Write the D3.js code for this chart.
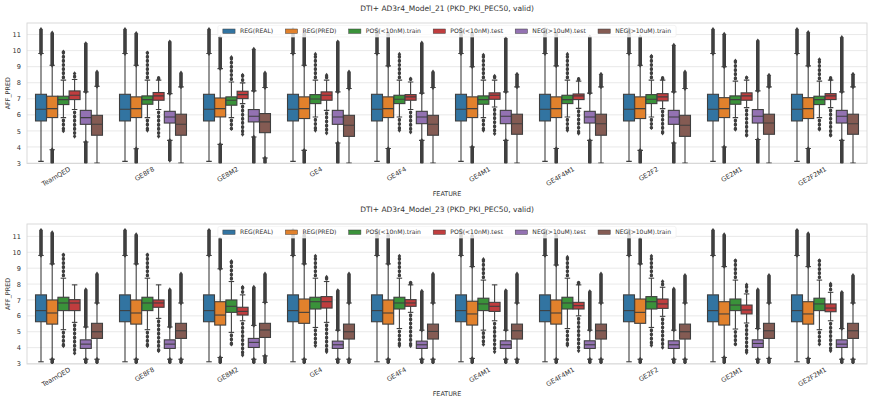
<!DOCTYPE html>
<html><head><meta charset="utf-8">
<script src="https://cdn.jsdelivr.net/npm/d3@7"></script>
<style>
body{margin:0;background:#fff;}
svg{display:block;font-family:"DejaVu Sans",sans-serif;}
</style></head><body>
<svg id="c" width="873" height="401"></svg>
<script>
// ---------------- DATA ----------------
const features = ["TeamQED","GE8F8","GE8M2","GE4","GE4F4","GE4M1","GE4F4M1","GE2F2","GE2M1","GE2F2M1"];
const seriesNames = ["REG(REAL)","REG(PRED)","POS(<10nM).train","POS(<10nM).test","NEG(>10uM).test","NEG(>10uM).train"];
const titles = ["DTI+ AD3r4_Model_21 (PKD_PKI_PEC50, valid)","DTI+ AD3r4_Model_23 (PKD_PKI_PEC50, valid)"];
const yTicks = [3,4,5,6,7,8,9,10,11];
// each entry: [flierMin, whiskerLow, q1, median, q3, whiskerHigh, flierMax]
const m21_regReal = features.map(() => [3.10,3.10,5.62,6.35,7.28,9.82,11.32]);
const m21_regPred = [
 [3.00,3.83,5.83,6.39,7.16,9.09,11.10],[3.00,3.89,5.83,6.39,7.12,9.09,11.07],[3.00,4.16,5.87,6.39,7.05,8.88,10.82],
 [3.00,3.79,5.77,6.39,7.12,9.09,11.07],[3.00,3.90,5.83,6.39,7.12,9.05,11.07],[3.00,4.00,5.83,6.39,7.12,9.00,11.07],
 [3.00,3.90,5.83,6.39,7.12,9.05,11.07],[3.00,3.79,5.77,6.39,7.12,9.09,10.86],[3.00,4.00,5.83,6.39,7.07,9.00,11.02],
 [3.00,3.90,5.77,6.39,7.07,9.05,11.13]];
const m21_posTrain = [
 [5.00,5.83,6.64,6.95,7.16,8.16,9.92],[5.04,5.83,6.66,6.95,7.18,8.16,9.86],[5.14,5.83,6.60,6.91,7.12,8.05,9.57],
 [5.04,5.87,6.70,6.99,7.26,8.16,9.78],[5.04,5.87,6.70,6.97,7.22,8.16,9.78],[5.04,5.83,6.66,6.95,7.18,8.16,9.72],
 [5.04,5.87,6.70,6.95,7.22,8.16,9.78],[5.20,5.87,6.70,6.97,7.26,8.16,9.65],[5.10,5.83,6.66,6.95,7.18,8.10,9.36],
 [5.10,5.83,6.64,6.95,7.16,8.10,9.44]];
const m21_posTest = [
 [4.66,6.33,6.95,7.22,7.49,8.20,8.57],[4.66,6.33,6.91,7.18,7.39,8.16,8.24],[4.79,6.70,7.01,7.26,7.47,7.99,8.47],
 [4.87,6.28,6.91,7.22,7.43,8.16,8.47],[4.93,6.33,6.91,7.12,7.26,8.05,8.24],[4.83,6.49,6.97,7.22,7.37,8.16,8.41],
 [4.85,6.40,6.95,7.18,7.30,8.10,8.20],[4.87,6.39,6.87,7.12,7.32,8.16,8.24],[4.73,6.45,6.91,7.18,7.37,8.16,8.32],
 [4.73,6.45,6.95,7.18,7.32,8.16,8.20]];
const m21_negTest = [
 [3.00,4.31,5.41,5.83,6.28,7.43,10.44],[3.17,4.41,5.49,5.87,6.22,7.32,10.55],[3.00,4.62,5.56,5.91,6.33,7.49,10.09],
 [3.00,4.25,5.41,5.87,6.28,7.43,10.55],[3.00,4.41,5.45,5.87,6.22,7.35,10.48],[3.00,4.41,5.45,5.91,6.28,7.43,10.75],
 [3.00,4.41,5.49,5.87,6.22,7.35,10.86],[3.00,4.25,5.41,5.87,6.28,7.43,10.34],[3.00,4.46,5.49,5.91,6.33,7.49,10.61],
 [3.00,4.41,5.49,5.91,6.28,7.43,10.82]];
const m21_negTrain = [
 [3.00,3.00,4.73,5.41,5.97,7.78,8.67],[3.00,3.00,4.73,5.41,6.04,7.74,8.61],[3.00,3.31,4.89,5.56,6.08,7.70,8.61],
 [3.00,3.00,4.66,5.35,5.97,7.64,8.67],[3.00,3.00,4.73,5.41,5.97,7.70,8.67],[3.00,3.00,4.79,5.45,6.04,7.74,8.53],
 [3.00,3.00,4.73,5.45,6.04,7.74,8.53],[3.00,3.00,4.66,5.35,5.97,7.64,8.67],[3.00,3.00,4.79,5.49,6.04,7.74,8.47],
 [3.00,3.00,4.79,5.45,6.04,7.74,8.53]];

const m23_regReal = features.map(() => [3.11,3.11,5.63,6.33,7.32,9.80,11.38]);
const m23_regPred = [
 [3.06,3.27,5.48,6.18,7.00,9.27,11.23],[3.06,3.27,5.48,6.18,7.00,9.27,11.11],[3.06,3.38,5.42,6.05,6.89,8.96,10.85],
 [3.06,3.27,5.53,6.22,7.06,9.27,11.11],[3.06,3.27,5.48,6.18,7.00,9.27,11.11],[3.06,3.32,5.42,6.12,6.92,9.10,11.06],
 [3.06,3.27,5.48,6.18,7.00,9.20,11.10],[3.06,3.27,5.53,6.22,7.06,9.27,10.85],[3.06,3.38,5.42,6.12,6.89,9.10,11.11],
 [3.06,3.32,5.48,6.12,6.89,9.10,11.17]];
const m23_posTrain = [
 [4.12,5.13,6.33,6.81,7.17,8.37,9.84],[4.12,5.13,6.33,6.81,7.17,8.37,9.84],[4.22,4.96,6.22,6.60,7.00,8.16,9.42],
 [4.12,5.27,6.43,6.89,7.17,8.37,9.76],[4.12,5.20,6.43,6.81,7.17,8.37,9.76],[4.20,5.10,6.33,6.75,7.11,8.25,9.55],
 [4.15,5.20,6.43,6.81,7.17,8.37,9.69],[4.15,5.27,6.43,6.89,7.21,8.37,9.76],[4.22,5.17,6.33,6.68,7.06,8.25,9.48],
 [4.22,5.13,6.33,6.75,7.11,8.25,9.48]];
const m23_posTest = [
 [3.65,5.59,6.33,6.81,7.02,7.95,7.95],[3.80,5.84,6.54,6.81,7.00,7.95,7.95],[3.53,5.69,6.05,6.28,6.54,7.32,7.80],
 [3.74,5.59,6.49,6.89,7.21,8.16,8.43],[4.12,6.22,6.60,6.81,7.02,7.95,8.01],[3.74,5.69,6.28,6.60,6.85,7.95,7.95],
 [3.80,6.00,6.43,6.64,6.85,7.95,8.01],[4.01,5.97,6.47,6.75,7.06,7.80,8.16],[3.69,5.55,6.12,6.37,6.68,7.38,7.95],
 [3.80,5.69,6.26,6.49,6.75,7.48,8.01]];
const m23_negTest = [
 [3.06,3.27,3.95,4.22,4.49,5.30,7.65],[3.06,3.27,3.95,4.22,4.49,5.30,7.65],[3.06,3.27,4.01,4.33,4.58,5.40,7.80],
 [3.06,3.27,3.95,4.18,4.41,5.10,7.59],[3.06,3.27,3.95,4.18,4.41,5.10,7.55],[3.06,3.27,3.95,4.18,4.43,5.10,7.59],
 [3.06,3.27,3.95,4.18,4.43,5.10,7.53],[3.06,3.27,3.95,4.18,4.43,5.10,7.69],[3.06,3.27,4.01,4.26,4.49,5.20,7.65],
 [3.06,3.27,4.01,4.22,4.49,5.20,7.48]];
const m23_negTrain = [
 [3.06,3.27,4.58,5.00,5.53,6.81,8.64],[3.06,3.27,4.58,5.06,5.53,6.81,8.64],[3.06,3.48,4.64,5.11,5.53,6.85,8.64],
 [3.06,3.27,4.54,5.00,5.48,6.81,8.64],[3.06,3.27,4.54,5.02,5.48,6.81,8.64],[3.06,3.27,4.54,5.06,5.48,6.81,8.64],
 [3.06,3.27,4.54,5.06,5.48,6.81,8.64],[3.06,3.27,4.54,5.00,5.48,6.81,8.54],[3.06,3.32,4.58,5.06,5.53,6.81,8.54],
 [3.06,3.27,4.58,5.06,5.53,6.81,8.54]];

// ---------------- STYLE / LAYOUT ----------------
const colors = ["#3274a1","#e1812c","#3a923a","#c03d3e","#9372b2","#845b53"];
const sparse = [false,false,true,true,false,false];
const lineCol = "#3f3f3f";
const panels = [
  {title:titles[0], data:[m21_regReal,m21_regPred,m21_posTrain,m21_posTest,m21_negTest,m21_negTrain], top:23, bottom:163.5, dom:[2.97,11.72]},
  {title:titles[1], data:[m23_regReal,m23_regPred,m23_posTrain,m23_posTest,m23_negTest,m23_negTrain], top:224, bottom:364, dom:[2.97,11.78]}
];
const L = 27, R = 867;
const svg = d3.select("#c");
const x = d3.scaleBand().domain(features).range([L,R]).padding(0);
const hue = d3.scaleBand().domain(seriesNames).range([0.1*x.bandwidth(), 0.9*x.bandwidth()]).padding(0);
const bw = hue.bandwidth()*0.98;

panels.forEach((p,pi) => {
  const y = d3.scaleLinear().domain(p.dom).range([p.bottom,p.top]);
  const g = svg.append("g");
  const cid = "clip"+pi;
  svg.append("clipPath").attr("id",cid).append("rect")
     .attr("x",L).attr("y",p.top).attr("width",R-L).attr("height",p.bottom-p.top);
  // grid
  g.selectAll(".grid").data(yTicks).join("line")
    .attr("x1",L).attr("x2",R).attr("y1",d=>y(d)).attr("y2",d=>y(d))
    .attr("stroke","#e3e3e3").attr("stroke-width",0.8);
  // y axis
  const ya = d3.axisLeft(y).tickValues(yTicks).tickSize(0).tickPadding(6);
  const yg = g.append("g").attr("transform",`translate(${L},0)`).call(ya);
  yg.select(".domain").remove();
  yg.selectAll("text").attr("font-size",6.6).attr("fill","#333").attr("font-family","DejaVu Sans");
  // x axis
  const xa = d3.axisBottom(x).tickSize(0).tickPadding(0);
  const xg = g.append("g").attr("transform",`translate(0,${p.bottom})`).call(xa);
  xg.select(".domain").remove();
  xg.selectAll("text").attr("font-size",6.6).attr("fill","#333").attr("font-family","DejaVu Sans")
    .attr("text-anchor","end").attr("dy",0).attr("y",0)
    .attr("transform","translate(2,7) rotate(-30)");
  // frame
  g.append("rect").attr("x",L).attr("y",p.top).attr("width",R-L).attr("height",p.bottom-p.top)
    .attr("fill","none").attr("stroke","#d6d6d6").attr("stroke-width",0.9);
  // boxes
  const bg = g.append("g").attr("clip-path",`url(#${cid})`);
  p.data.forEach((arr,si) => {
    features.forEach((f,fi) => {
      const [fmin,wlo,q1,med,q3,whi,fmax] = arr[fi];
      const cx = x(f) + hue(seriesNames[si]) + hue.bandwidth()/2;
      const gg = bg.append("g");
      // fliers
      const drawFl = (a,b) => { // a: extreme value, b: whisker end
        const ya_ = y(a), yb = y(b);
        if (sparse[si]) {
          gg.append("line").attr("x1",cx).attr("x2",cx).attr("y1",yb + (ya_<yb?-2.5:2.5)).attr("y2",ya_)
            .attr("stroke",lineCol).attr("stroke-width",3.3).attr("stroke-linecap","round").attr("stroke-dasharray","0.8,3.3");
          gg.append("path").attr("d",`M${cx},${ya_-2.4}L${cx+1.8},${ya_}L${cx},${ya_+2.4}L${cx-1.8},${ya_}Z`).attr("fill",lineCol);
        } else {
          const t = Math.min(ya_,yb), bt = Math.max(ya_,yb);
          gg.append("path").attr("d",`M${cx},${t-2.4}L${cx+1.8},${t}L${cx+1.8},${bt}L${cx},${bt+2.4}L${cx-1.8},${bt}L${cx-1.8},${t}Z`)
            .attr("fill",lineCol);
        }
      };
      if (fmax > whi + 0.001) drawFl(fmax, whi);
      if (fmin < wlo - 0.001) drawFl(fmin, wlo);
      // whiskers
      gg.append("line").attr("x1",cx).attr("x2",cx).attr("y1",y(q3)).attr("y2",y(whi)).attr("stroke",lineCol).attr("stroke-width",1.1);
      gg.append("line").attr("x1",cx).attr("x2",cx).attr("y1",y(q1)).attr("y2",y(wlo)).attr("stroke",lineCol).attr("stroke-width",1.1);
      [whi,wlo].forEach(v => gg.append("line").attr("x1",cx-bw/4).attr("x2",cx+bw/4).attr("y1",y(v)).attr("y2",y(v))
          .attr("stroke",lineCol).attr("stroke-width",1.1));
      // box
      gg.append("rect").attr("x",cx-bw/2).attr("width",bw).attr("y",y(q3)).attr("height",y(q1)-y(q3))
        .attr("fill",colors[si]).attr("stroke",lineCol).attr("stroke-width",1.1);
      gg.append("line").attr("x1",cx-bw/2).attr("x2",cx+bw/2).attr("y1",y(med)).attr("y2",y(med))
        .attr("stroke",lineCol).attr("stroke-width",1.1);
    });
  });
  // labels
  svg.append("text").attr("x",(L+R)/2).attr("y",p.top-12).attr("text-anchor","middle")
    .attr("font-size",7.5).attr("fill","#333").text(p.title);
  svg.append("text").attr("x",(L+R)/2).attr("y",p.bottom+32).attr("text-anchor","middle")
    .attr("font-size",6.4).attr("fill","#333").text("FEATURE");
  svg.append("text").attr("transform",`translate(10,${(p.top+p.bottom)/2}) rotate(-90)`).attr("text-anchor","middle")
    .attr("font-size",6.4).attr("fill","#333").text("AFF_PRED");
  // legend
  const lg = svg.append("g");
  const fs = 6.1, hl = 12.2, hp = 4.9, cs = 12.2;
  const bgRect = lg.append("rect");
  let cur = 0;
  seriesNames.forEach((s,i) => {
    const it = lg.append("g");
    it.append("rect").attr("x",cur).attr("y",-2.2).attr("width",hl).attr("height",4.4)
      .attr("fill",colors[i]).attr("stroke",lineCol).attr("stroke-width",0.5);
    const t = it.append("text").attr("x",cur+hl+hp).attr("y",2.2).attr("font-size",fs).attr("fill","#333").text(s);
    cur += hl + hp + t.node().getComputedTextLength() + cs;
  });
  const total = cur - cs;
  const lx = (L+R)/2 - total/2, ly = p.top + 8.2;
  lg.attr("transform",`translate(${lx},${ly})`);
  bgRect.attr("x",-5).attr("y",-5.8).attr("width",total+10).attr("height",11.6).attr("rx",2)
    .attr("fill","#fff").attr("fill-opacity",0.8).attr("stroke","#ececec").attr("stroke-width",0.6);
});
</script>
</body></html>
